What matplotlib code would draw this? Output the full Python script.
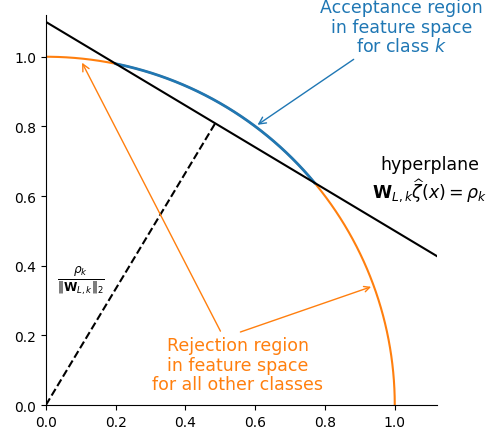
import numpy as np
import matplotlib
matplotlib.use("Agg")
import matplotlib.pyplot as plt

# hyperplane w . z = rho, unit circle of features
w = np.array([0.6, 1.0])
rho = 1.1
xlim = [0, 1.12]
ylim = [0, 1.12]
ticks = [0.0, 0.2, 0.4, 0.6, 0.8, 1.0]

# intersections of line with unit circle
a = w[0]**2 + w[1]**2
b = -2 * rho * w[0]
c = rho**2 - w[1]**2
xs = np.sort((-b + np.array([-1, 1]) * np.sqrt(b**2 - 4*a*c)) / (2*a))
th1 = np.arctan2((rho - w[0]*xs[0]) / w[1], xs[0])
th2 = np.arctan2((rho - w[0]*xs[1]) / w[1], xs[1])

fig = plt.figure(figsize=(4.99, 4.31), dpi=100)
ax = fig.add_axes([0.092, 0.058, 0.783, 0.905])

t = np.linspace(0, np.pi/2, 400)
ax.plot(np.cos(t), np.sin(t), color="C1", lw=1.5)
ta = np.linspace(th2, th1, 200)
ax.plot(np.cos(ta), np.sin(ta), color="C0", lw=2)

xl = np.linspace(xlim[0], xlim[1], 10)
ax.plot(xl, (rho - w[0]*xl) / w[1], color="k", lw=1.5)

foot = rho / a * w
ax.plot([0, foot[0]], [0, foot[1]], "k--", lw=1.5)

ax.text(0.1, 0.358, r"$\frac{\rho_k}{\|\mathbf{W}_{L,k}\|_2}$", fontsize=12.5,
        ha="center", va="center")

fs = 12.5
ax.annotate("Acceptance region\nin feature space\nfor class $k$", xy=(0.6, 0.8),
            xytext=(1.02, 1.005), ha="center", va="bottom", color="C0", fontsize=fs,
            linespacing=1.1, arrowprops=dict(arrowstyle="->", color="C0"),
            annotation_clip=False)

ax.annotate("Rejection region\nin feature space\nfor all other classes",
            xy=(0.1, 0.99), xytext=(0.55, 0.197), ha="center", va="top",
            color="C1", fontsize=fs, linespacing=1.1,
            arrowprops=dict(arrowstyle="->", color="C1"))
ax.annotate("", xy=(np.cos(np.radians(20)), np.sin(np.radians(20))),
            xytext=(0.55, 0.207), arrowprops=dict(arrowstyle="->", color="C1"))

ax.text(1.1, 0.648, "hyperplane\n" + r"$\mathbf{W}_{L,k}\widehat{\zeta}(x)=\rho_k$",
        ha="center", va="center", fontsize=fs, clip_on=False)

ax.set_xlim(xlim)
ax.set_ylim(ylim)
ax.set_xticks(ticks)
ax.set_yticks(ticks)
ax.spines["top"].set_visible(False)
ax.spines["right"].set_visible(False)

fig.savefig("out.png", dpi=100)
